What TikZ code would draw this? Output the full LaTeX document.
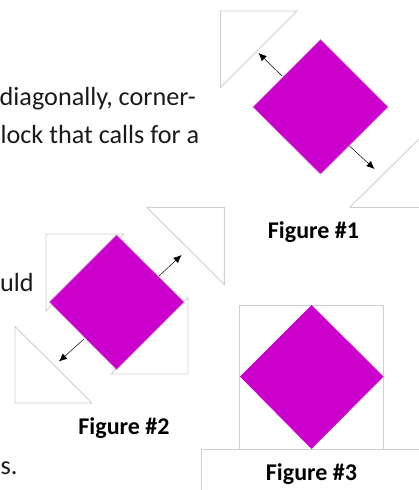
\documentclass[tikz,border=0pt]{standalone}
\usepackage{fontspec}
\setmainfont{Carlito}
\usetikzlibrary{arrows.meta}
\definecolor{blockmag}{HTML}{CC00CC}
\definecolor{tribord}{HTML}{CFCFCF}
\definecolor{inktxt}{HTML}{1A1A1A}
\tikzset{
  patch/.style={draw=tribord,line width=0.9pt,fill=white,line join=miter},
  sqblock/.style={fill=blockmag,draw=tribord!60!blockmag,line width=0.4pt},
  pull/.style={draw=black,line width=0.5pt,-{Latex[length=8pt,width=7pt]}},
  bodytxt/.style={font=\fontsize{26.2}{30}\selectfont,text=inktxt,inner sep=0pt},
  figcap/.style={font=\fontsize{24}{28}\selectfont\bfseries,text=black,inner sep=0pt,anchor=base}
}
\begin{document}
\begin{tikzpicture}[x=1pt,y=-1pt]
\useasboundingbox (0,0) rectangle (419,490);
% body text
\node[bodytxt,anchor=base east] (t1) at (196,105) {diagonally, corner-};
\node[bodytxt,anchor=base east] (t2) at (199.5,143) {lock that calls for a};
\node[bodytxt,anchor=base west] (t3) at (0,291) {uld};
\node[bodytxt,anchor=base west] (t4) at (0.5,474) {s.};
% figure 1
\draw[patch] (220.5,11) -- (297,11) -- (220.5,87.5) -- cycle;
\draw[patch] (349.5,207.5) -- (419,139) (349.5,207.5) -- (419,207.5);
\draw[sqblock] (320.5,39.5) -- (388,107) -- (320.5,174) -- (253,107) -- cycle;
\coordinate (a1s) at (282,76); \coordinate (a1e) at (258.5,53);
\coordinate (a2s) at (349.5,146); \coordinate (a2e) at (374.5,169);
\draw[pull] (a1s) -- (a1e);
\draw[pull] (a2s) -- (a2e);
\node[figcap] (c1) at (313.5,238) {Figure \#1};
% figure 2
\draw[patch] (147,207.5) -- (224.3,207.5) -- (224.3,284.5) -- cycle;
\draw[patch] (46,234) -- (123.5,234) -- (46,311) -- cycle;
\draw[patch] (188,297.5) -- (188,374) -- (111,374) -- cycle;
\draw[patch] (15,326.5) -- (15,403) -- (92,403) -- cycle;
\draw[sqblock] (116.5,235) -- (184,302) -- (116.5,369.5) -- (49.5,302) -- cycle;
\coordinate (a3s) at (159,276); \coordinate (a3e) at (181.5,255);
\coordinate (a4s) at (84,339); \coordinate (a4e) at (59,361.5);
\draw[pull] (a3s) -- (a3e);
\draw[pull] (a4s) -- (a4e);
\node[figcap] (c2) at (124,434) {Figure \#2};
% figure 3
\draw[patch] (239.7,305) rectangle (383.7,449);
\fill[blockmag] (311.5,305) -- (383.5,376.5) -- (311.5,449) -- (240,376.5) -- cycle;
\draw[patch] (201.3,490) -- (201.3,449.3) -- (419,449.3);
\node[figcap] (c3) at (311.5,480) {Figure \#3};
\end{tikzpicture}
\end{document}
